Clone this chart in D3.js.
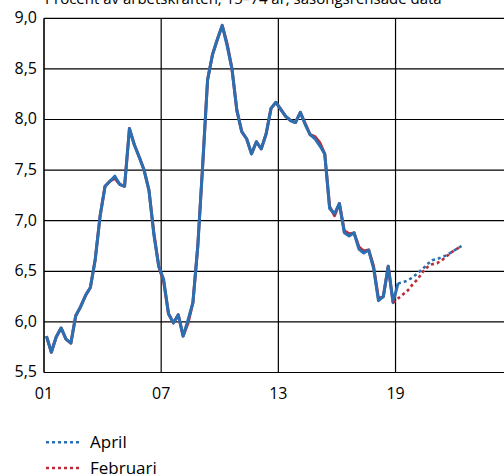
<!DOCTYPE html>
<html>
<head>
<meta charset="utf-8">
<script src="https://cdn.jsdelivr.net/npm/d3@7"></script>
<style>
body{margin:0;background:#fff;}
svg{display:block;font-family:'Open Sans',sans-serif;}
</style>
</head>
<body>
<div class="main"></div>
<script>
var title='Procent av arbetskraften, 15–74 år, säsongsrensade data';
var startYear=2001;
var xTickYears=[2001,2007,2013,2019];
var xTickLabels=['01','07','13','19'];
var yTicks=[5.5,6.0,6.5,7.0,7.5,8.0,8.5,9.0];

// quarterly, 2001Q1 - 2019Q1
var aprilOutcome=[5.86,5.70,5.85,5.94,5.83,5.79,6.06,6.15,6.26,6.34,
  6.62,7.05,7.34,7.39,7.44,7.36,7.34,7.91,7.75,7.63,
  7.50,7.30,6.86,6.55,6.42,6.08,5.99,6.07,5.86,6.02,
  6.19,6.75,7.55,8.39,8.64,8.79,8.93,8.73,8.50,8.09,
  7.88,7.81,7.66,7.78,7.71,7.86,8.11,8.17,8.10,8.03,
  7.99,7.97,8.07,7.95,7.85,7.81,7.74,7.66,7.12,7.07,
  7.17,6.88,6.85,6.88,6.72,6.68,6.71,6.53,6.21,6.25,
  6.55,6.19,6.38];
// quarterly, 2001Q1 - 2018Q4
var februariOutcome=[5.86,5.70,5.85,5.94,5.83,5.79,6.06,6.15,6.26,6.34,
  6.62,7.05,7.34,7.39,7.42,7.36,7.34,7.91,7.75,7.63,
  7.50,7.30,6.88,6.55,6.40,6.08,5.99,6.07,5.86,5.99,
  6.19,6.75,7.55,8.39,8.64,8.79,8.93,8.75,8.50,8.09,
  7.88,7.81,7.66,7.78,7.71,7.86,8.11,8.17,8.10,8.03,
  7.99,7.97,8.07,7.96,7.85,7.83,7.77,7.66,7.14,7.05,
  7.17,6.90,6.87,6.88,6.74,6.70,6.71,6.55,6.23,6.25,
  6.55,6.19];
// forecasts: April from 2019Q1, Februari from 2018Q4
var aprilForecast=[6.38,6.39,6.41,6.44,6.48,6.52,6.57,6.61,6.62,6.64,6.66,6.69,6.72,6.75];
var februariForecast=[6.19,6.23,6.27,6.31,6.37,6.42,6.49,6.54,6.57,6.58,6.61,6.65,6.69,6.72,6.75];

var blue='#2a6fb2', red='#bd2a38';

var W=504, H=474;
var margin={top:18.3,left:44,bottom:101.5};
var yearPx=19.53;

var svg=d3.select('.main').append('svg')
  .attr('width',W)
  .attr('height',H);

function toSeries(values,firstIndex){
  return values.map(function(v,i){
    return {t:startYear+(firstIndex+i+0.5)/4, v:v};
  });
}

var x=d3.scaleLinear()
  .domain([2001,2025])
  .range([margin.left,margin.left+24*yearPx]);
var y=d3.scaleLinear()
  .domain([5.5,9.0])
  .range([H-margin.bottom,margin.top]);

var comma=d3.formatLocale({decimal:',',thousands:' ',grouping:[3],currency:['','']}).format('.1f');

// title (cut at top, as in the original)
svg.append('text')
  .attr('x',45)
  .attr('y',3.5)
  .style('font-size','15px')
  .style('fill','#000')
  .text(title);

// GRID
svg.append('g').selectAll('line')
  .data(yTicks)
  .enter().append('line')
  .attr('x1',margin.left).attr('x2',W)
  .attr('y1',function(d){return y(d);})
  .attr('y2',function(d){return y(d);})
  .attr('stroke','#000')
  .attr('stroke-width',1.2);

svg.append('g').selectAll('line')
  .data(xTickYears)
  .enter().append('line')
  .attr('x1',function(d){return x(d);})
  .attr('x2',function(d){return x(d);})
  .attr('y1',y(9.0)).attr('y2',y(5.5))
  .attr('stroke','#000')
  .attr('stroke-width',function(d,i){return i==0?1.6:1.2;});

// Y-AXIS labels
svg.append('g').selectAll('text')
  .data(yTicks)
  .enter().append('text')
  .attr('x',37)
  .attr('y',function(d){return y(d);})
  .attr('dy','0.3em')
  .attr('text-anchor','end')
  .style('font-size','16px')
  .text(function(d){return comma(d);});

// X-AXIS labels
svg.append('g').selectAll('text')
  .data(xTickYears)
  .enter().append('text')
  .attr('x',function(d){return x(d);})
  .attr('y',398.5)
  .attr('text-anchor','middle')
  .style('font-size','16px')
  .text(function(d,i){return xTickLabels[i];});

var line=d3.line()
  .x(function(d){return x(d.t);})
  .y(function(d){return y(d.v);});

// red under blue
svg.append('path')
  .datum(toSeries(februariOutcome,0))
  .attr('d',line)
  .attr('fill','none')
  .attr('stroke',red)
  .attr('stroke-width',3)
  .attr('stroke-linejoin','round');
svg.append('path')
  .datum(toSeries(aprilOutcome,0))
  .attr('d',line)
  .attr('fill','none')
  .attr('stroke',blue)
  .attr('stroke-width',3)
  .attr('stroke-linejoin','round');

svg.append('path')
  .datum(toSeries(februariForecast,71))
  .attr('d',line)
  .attr('fill','none')
  .attr('stroke',red)
  .attr('stroke-width',2.6)
  .attr('stroke-dasharray','3,3');
svg.append('path')
  .datum(toSeries(aprilForecast,72))
  .attr('d',line)
  .attr('fill','none')
  .attr('stroke',blue)
  .attr('stroke-width',2.6)
  .attr('stroke-dasharray','3,3');

// legend
var legendData=[{name:'April',color:blue},{name:'Februari',color:red}];
var legend=svg.append('g').selectAll('g')
  .data(legendData)
  .enter().append('g')
  .attr('transform',function(d,i){return 'translate(0,'+(442.3+i*25.7)+')';});
legend.append('line')
  .attr('x1',46).attr('x2',82)
  .attr('stroke',function(d){return d.color;})
  .attr('stroke-width',2.6)
  .attr('stroke-dasharray','3,3');
legend.append('text')
  .attr('x',90)
  .attr('y',5.5)
  .style('font-size','17px')
  .text(function(d){return d.name;});
</script>
</body>
</html>
